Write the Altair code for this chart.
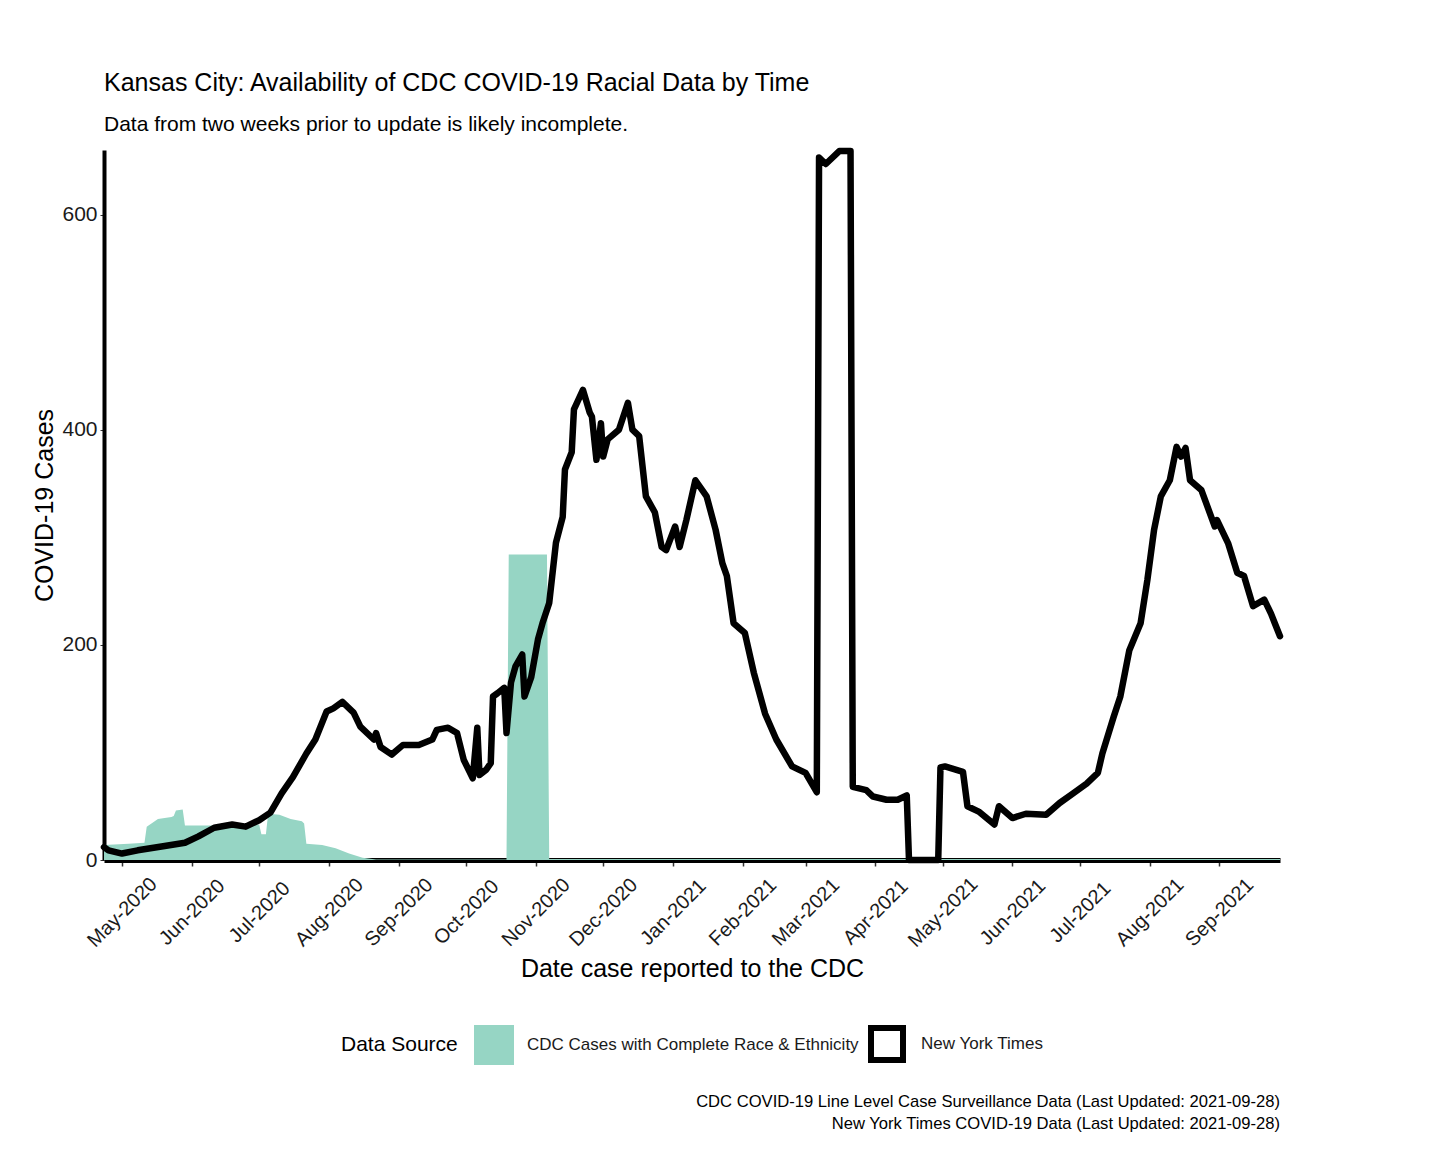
import altair as alt
import pandas as pd

FONT = "Liberation Sans, Arial, sans-serif"
TEAL = "#96d5c4"

TITLE = "Kansas City: Availability of CDC COVID-19 Racial Data by Time"
SUBTITLE = "Data from two weeks prior to update is likely incomplete."
X_TITLE = "Date case reported to the CDC"
Y_TITLE = "COVID-19 Cases"
LEGEND_TITLE = "Data Source"
CDC_LABEL = "CDC Cases with Complete Race & Ethnicity"
NYT_LABEL = "New York Times"
CAPTIONS = [
    "CDC COVID-19 Line Level Case Surveillance Data (Last Updated: 2021-09-28)",
    "New York Times COVID-19 Data (Last Updated: 2021-09-28)",
]
Y_TICKS = [0, 200, 400, 600]
X_TICK_MONTHS = [(2020, 5), (2020, 6), (2020, 7), (2020, 8), (2020, 9), (2020, 10),
                 (2020, 11), (2020, 12), (2021, 1), (2021, 2), (2021, 3), (2021, 4),
                 (2021, 5), (2021, 6), (2021, 7), (2021, 8), (2021, 9)]

nyt_dates = [
    "2020-04-23", "2020-04-25", "2020-05-01", "2020-05-08", "2020-05-20", "2020-05-29",
    "2020-06-04", "2020-06-11", "2020-06-19", "2020-06-25", "2020-07-01", "2020-07-06",
    "2020-07-11", "2020-07-16", "2020-07-22", "2020-07-26", "2020-07-31", "2020-08-03",
    "2020-08-07", "2020-08-12", "2020-08-15", "2020-08-21", "2020-08-22", "2020-08-24",
    "2020-08-29", "2020-09-03", "2020-09-10", "2020-09-16", "2020-09-18", "2020-09-23",
    "2020-09-27", "2020-09-30", "2020-10-04", "2020-10-06", "2020-10-07", "2020-10-10",
    "2020-10-12", "2020-10-13", "2020-10-15", "2020-10-18", "2020-10-19", "2020-10-21",
    "2020-10-23", "2020-10-26", "2020-10-27", "2020-10-30", "2020-11-02", "2020-11-04",
    "2020-11-07", "2020-11-10", "2020-11-13", "2020-11-14", "2020-11-17", "2020-11-18",
    "2020-11-22", "2020-11-25", "2020-11-26", "2020-11-28", "2020-11-30", "2020-12-01",
    "2020-12-03", "2020-12-08", "2020-12-12", "2020-12-14", "2020-12-17", "2020-12-20",
    "2020-12-24", "2020-12-27", "2020-12-29", "2021-01-02", "2021-01-04", "2021-01-07",
    "2021-01-11", "2021-01-16", "2021-01-20", "2021-01-23", "2021-01-25", "2021-01-28",
    "2021-02-02", "2021-02-06", "2021-02-11", "2021-02-16", "2021-02-23", "2021-03-01",
    "2021-03-06", "2021-03-07", "2021-03-10", "2021-03-16", "2021-03-21", "2021-03-22",
    "2021-03-28", "2021-03-31", "2021-04-06", "2021-04-11", "2021-04-15", "2021-04-16",
    "2021-04-29", "2021-04-30", "2021-05-02", "2021-05-10", "2021-05-12", "2021-05-17",
    "2021-05-24", "2021-05-26", "2021-06-01", "2021-06-07", "2021-06-16", "2021-06-22",
    "2021-06-28", "2021-07-04", "2021-07-09", "2021-07-11", "2021-07-16", "2021-07-19",
    "2021-07-23", "2021-07-28", "2021-07-31", "2021-08-03", "2021-08-06", "2021-08-10",
    "2021-08-13", "2021-08-15", "2021-08-17", "2021-08-19", "2021-08-24", "2021-08-30",
    "2021-08-31", "2021-09-05", "2021-09-09", "2021-09-12", "2021-09-16", "2021-09-21",
    "2021-09-24", "2021-09-28",
]
nyt_cases = [
    12, 9, 6, 9, 13, 16,
    22, 30, 33, 31, 37, 44,
    62, 77, 99, 112, 138, 141,
    147, 137, 124, 112, 118, 105,
    98, 107, 107, 112, 121, 123,
    118, 93, 76, 123, 79, 84,
    90, 152, 155, 160, 118, 165,
    180, 191, 152, 170, 205, 220,
    239, 295, 319, 363, 379, 419,
    437, 416, 412, 372, 406, 375,
    391, 400, 425, 400, 394, 338,
    323, 291, 288, 310, 291, 316,
    353, 338, 307, 276, 264, 220,
    211, 174, 136, 112, 87, 81,
    63, 653, 647, 659, 659, 68,
    65, 59, 56, 56, 60, 0,
    0, 86, 87, 82, 50, 45,
    33, 50, 39, 43, 42, 53,
    62, 71, 81, 99, 133, 152,
    195, 220, 260, 307, 338, 353,
    384, 375, 383, 353, 344, 310,
    316, 294, 267, 264, 236, 242,
    229, 208,
]

cdc_dates = [
    "2020-04-23", "2020-05-04", "2020-05-11", "2020-05-12", "2020-05-17", "2020-05-23",
    "2020-05-24", "2020-05-25", "2020-05-28", "2020-05-29", "2020-06-15", "2020-07-01",
    "2020-07-02", "2020-07-04", "2020-07-05", "2020-07-10", "2020-07-15", "2020-07-20",
    "2020-07-21", "2020-07-22", "2020-07-29", "2020-08-04", "2020-08-10", "2020-08-16",
    "2020-08-22", "2020-10-19", "2020-10-20", "2020-11-06", "2020-11-07", "2021-09-28",
]
cdc_cases = [
    14, 15, 16, 31, 38, 40,
    41, 46, 47, 32, 32, 33,
    24, 24, 43, 42, 38, 36,
    34, 15, 14, 11, 6, 2,
    0.5, 0.5, 284, 284, 1, 1,
]

nyt_df = pd.DataFrame({"date": nyt_dates, "cases": nyt_cases, "nyt_source": NYT_LABEL})
cdc_df = pd.DataFrame({"date": cdc_dates, "cases": cdc_cases, "cdc_source": CDC_LABEL})

x_scale = alt.Scale(type="utc", domain=[alt.DateTime(year=2020, month=4, date=23, utc=True),
                                        alt.DateTime(year=2021, month=9, date=28, utc=True)])
y_scale = alt.Scale(domain=[0, 660], nice=False, zero=True)

x_axis = alt.Axis(
    title=X_TITLE,
    values=[alt.DateTime(year=y, month=m, date=1, utc=True) for y, m in X_TICK_MONTHS],
    format="%b-%Y", labelAngle=315, labelAlign="center", labelBaseline="middle",
    labelPadding=46, tickSize=6, labelFontSize=20, titleFontSize=25,
    titleY=116, titleBaseline="alphabetic", labelOverlap=False, labelBound=False,
    labelFlush=False, domainColor="black", domainWidth=5, tickColor="#333", tickWidth=1.5,
)
y_axis = alt.Axis(
    title=Y_TITLE, values=Y_TICKS, labelFontSize=21, titleFontSize=25,
    titleX=-52, titleY=355, titleAngle=270, titleBaseline="alphabetic", titleAlign="center",
    domainWidth=4, domainColor="black", tickSize=4, tickColor="#333", labelPadding=3,
)

area = alt.Chart(cdc_df).mark_area(interpolate="linear", opacity=1).encode(
    x=alt.X("date:T", scale=x_scale, axis=x_axis),
    y=alt.Y("cases:Q", scale=y_scale, axis=y_axis),
    fill=alt.Fill("cdc_source:N", scale=alt.Scale(domain=[CDC_LABEL], range=[TEAL]),
                  legend=alt.Legend(title=LEGEND_TITLE, orient="none", legendX=237, legendY=875,
                                    direction="horizontal", titleOrient="left",
                                    titleFontSize=21, titlePadding=16, labelFontSize=17,
                                    labelOffset=13, labelLimit=0, symbolType="square",
                                    symbolSize=1600, symbolStrokeWidth=0, padding=0)),
)

line = alt.Chart(nyt_df).mark_line(strokeWidth=6.5, strokeJoin="round", strokeCap="round").encode(
    x=alt.X("date:T", scale=x_scale, axis=x_axis),
    y=alt.Y("cases:Q", scale=y_scale, axis=y_axis),
    stroke=alt.Stroke("nyt_source:N", scale=alt.Scale(domain=[NYT_LABEL], range=["black"]),
                      legend=alt.Legend(title=None, orient="none", legendX=764, legendY=875,
                                        symbolType="square", symbolSize=1024,
                                        symbolStrokeWidth=6, symbolFillColor="white",
                                        labelFontSize=17, labelOffset=15, labelLimit=0,
                                        padding=0)),
)

cap1 = alt.Chart(pd.DataFrame({"t": [CAPTIONS[0]]})).mark_text(
    align="right", baseline="middle", fontSize=16.6, font=FONT, color="black"
).encode(text="t:N", x=alt.value(1176), y=alt.value(952))
cap2 = alt.Chart(pd.DataFrame({"t": [CAPTIONS[1]]})).mark_text(
    align="right", baseline="middle", fontSize=16.6, font=FONT, color="black"
).encode(text="t:N", x=alt.value(1176), y=alt.value(974))

chart = alt.layer(area, line, cap1, cap2).properties(
    width=1176, height=710,
    autosize=alt.AutoSizeParams(type="none"),
    padding={"left": 96, "top": 142, "right": 160, "bottom": 290},
    title=alt.TitleParams(text=TITLE, subtitle=SUBTITLE, anchor="start", frame="group",
                          fontSize=25, subtitleFontSize=21, font=FONT, subtitleFont=FONT,
                          fontWeight="normal", color="black", subtitleColor="black",
                          offset=13, subtitlePadding=18),
).resolve_legend(fill="independent", stroke="independent").configure_view(stroke=None).configure_axis(
    grid=False, labelFont=FONT, titleFont=FONT, labelColor="#1a1a1a", titleColor="black",
    titleFontWeight="normal",
).configure_legend(
    titleFont=FONT, labelFont=FONT, titleColor="black", labelColor="#1a1a1a",
    titleFontWeight="normal",
)

chart.save("out.html", embed_options={"renderer": "svg", "actions": False})
